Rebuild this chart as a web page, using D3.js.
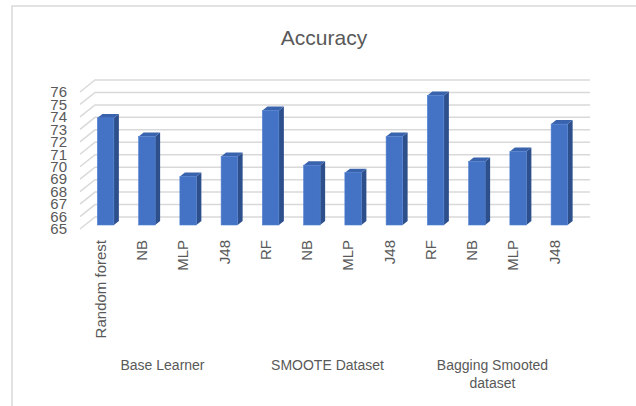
<!DOCTYPE html>
<html><head><meta charset="utf-8">
<script src="https://cdn.jsdelivr.net/npm/d3@7"></script>
<style>
html,body{margin:0;padding:0;background:#fff;}
svg{display:block;font-family:"Liberation Sans",Arial,sans-serif;}
</style></head>
<body>
<svg id="c" width="636" height="406"></svg>
<script>
const categories = ["Random forest","NB","MLP","J48","RF","NB","MLP","J48","RF","NB","MLP","J48"];
const values = [73.6, 72.1, 68.9, 70.5, 74.2, 69.8, 69.2, 72.1, 75.4, 70.1, 70.9, 73.1];
const groups = [["Base Learner"],["SMOOTE Dataset"],["Bagging Smooted","dataset"]];
const groupSize = 4;
const yTicks = [65,66,67,68,69,70,71,72,73,74,75,76];
const title = "Accuracy";

const svg = d3.select("#c");
const txt = "#595959", grid = "#d9d9d9";

// chart border (cropped on right/bottom)
svg.append("rect").attr("x",12).attr("y",6).attr("width",700).attr("height",500)
  .attr("fill","#fff").attr("stroke",grid).attr("stroke-width",1.5);

svg.append("text").attr("x",324).attr("y",45).attr("text-anchor","middle")
  .attr("fill",txt).attr("font-size",21).text(title);

// 3D geometry: back wall scales, depth offset
const DX = 15, DY = 12; // full depth offset (front = back - DX, + DY)
const y = d3.scaleLinear().domain([65,76]).range([217,80]);
const idx = categories.map((d,i)=>i);
const x = d3.scaleBand().domain(idx).range([95,590]).paddingInner(0.6).paddingOuter(0.3);
const step = x.step();

// gridlines
const g = svg.append("g");
yTicks.forEach(t=>{
  const yb = y(t);
  g.append("path")
    .attr("d",`M${95-DX},${yb+DY}L95,${yb}L590,${yb}`)
    .attr("fill","none").attr("stroke",grid).attr("stroke-width",1.5);
});

// y labels
svg.append("g").selectAll("text").data(yTicks).join("text")
  .attr("x",67).attr("y",d=>y(d)+DY).attr("dy","0.35em").attr("text-anchor","end")
  .attr("fill",txt).attr("font-size",15).text(d=>d);

// bars
const fOff = 2/3, bOff = 1/3; // depth fractions from back
const bars = svg.append("g");
values.forEach((v,i)=>{
  const w = x.bandwidth();
  const x0 = x(i) - DX*fOff, yBase = y(65) + DY*fOff, yTop = y(v) + DY*fOff;
  const ddx = DX*(fOff-bOff), ddy = DY*(fOff-bOff);
  // side
  bars.append("path").attr("d",
    `M${x0+w},${yBase}L${x0+w+ddx},${yBase-ddy}L${x0+w+ddx},${yTop-ddy}L${x0+w},${yTop}Z`)
    .attr("fill","#2d4f8c");
  // top
  bars.append("path").attr("d",
    `M${x0},${yTop}L${x0+ddx},${yTop-ddy}L${x0+w+ddx},${yTop-ddy}L${x0+w},${yTop}Z`)
    .attr("fill","#3a63ae");
  // front
  bars.append("rect").attr("x",x0).attr("y",yTop).attr("width",w).attr("height",yBase-yTop)
    .attr("fill","#4472c4").attr("stroke","#4f7fd0").attr("stroke-width",0.6);
});

// category labels (rotated)
svg.append("g").selectAll("text").data(categories).join("text")
  .attr("transform",(d,i)=>`translate(${x(i)+x.bandwidth()/2-DX},240) rotate(-90)`)
  .attr("dy","0.35em").attr("text-anchor","end")
  .attr("fill",txt).attr("font-size",15).text(d=>d);

// group labels
groups.forEach((lines,gi)=>{
  const cx = 95 - DX + (gi*groupSize + groupSize/2)*step;
  const t = svg.append("text").attr("x",cx).attr("y",370).attr("text-anchor","middle")
    .attr("fill",txt).attr("font-size",14);
  lines.forEach((l,li)=>t.append("tspan").attr("x",cx).attr("dy",li?18:0).text(l));
});
</script>
</body></html>
